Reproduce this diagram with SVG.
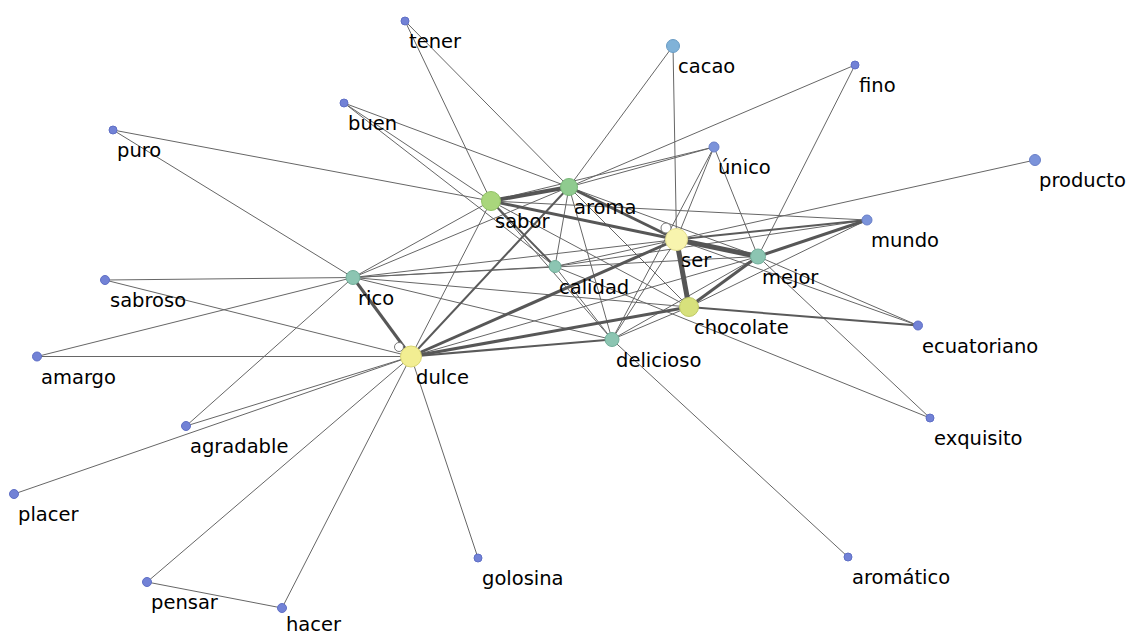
<svg xmlns="http://www.w3.org/2000/svg" width="1129" height="635" viewBox="0 0 1129 635">
<style>
.e{stroke:#666;stroke-width:1;fill:none}
.e2{stroke:#5a5a5a;stroke-width:2}
.e3{stroke:#575757;stroke-width:3}
.e4{stroke:#555;stroke-width:4}
.e5{stroke:#555;stroke-width:5}
.blue{fill:#7282d6;stroke:#5f6fc6;stroke-width:1}
.blue2{fill:#7b93da;stroke:#6a80c8;stroke-width:1}
.cacao{fill:#80b2d8;stroke:#6a9cc4;stroke-width:1}
.teal{fill:#8cc5b2;stroke:#72ae9a;stroke-width:1}
.sabor{fill:#a9d67c;stroke:#92c266;stroke-width:1}
.aroma{fill:#8fcb8f;stroke:#78b878;stroke-width:1}
.ser{fill:#f8f4ae;stroke:#e4de8e;stroke-width:1}
.dulce{fill:#f2ee92;stroke:#dad672;stroke-width:1}
.choc{fill:#d7e17c;stroke:#c0ca66;stroke-width:1}
.loop{fill:#fff;stroke:#777;stroke-width:1}
text{font-family:"DejaVu Sans","Liberation Sans",sans-serif;font-size:19.5px;fill:#000}
</style>
<rect width="1129" height="635" fill="#fff"/>
<g id="connectors">
<line class="e" x1="405" y1="21" x2="491" y2="201"/>
<line class="e" x1="405" y1="21" x2="569" y2="187"/>
<line class="e" x1="673" y1="46" x2="569" y2="187"/>
<line class="e" x1="673" y1="46" x2="676.5" y2="239.5"/>
<line class="e" x1="855" y1="65" x2="569" y2="187"/>
<line class="e" x1="855" y1="65" x2="758" y2="256.5"/>
<line class="e" x1="344" y1="103" x2="569" y2="187"/>
<line class="e" x1="344" y1="103" x2="491" y2="201"/>
<line class="e" x1="344" y1="103" x2="555" y2="266.5"/>
<line class="e" x1="113" y1="130" x2="491" y2="201"/>
<line class="e" x1="113" y1="130" x2="353" y2="277.5"/>
<line class="e" x1="714" y1="147" x2="569" y2="187"/>
<line class="e" x1="714" y1="147" x2="491" y2="201"/>
<line class="e" x1="714" y1="147" x2="676.5" y2="239.5"/>
<line class="e" x1="714" y1="147" x2="758" y2="256.5"/>
<line class="e" x1="714" y1="147" x2="612" y2="339.5"/>
<line class="e" x1="1035" y1="160" x2="676.5" y2="239.5"/>
<line class="e" x1="105" y1="280" x2="353" y2="277.5"/>
<line class="e" x1="105" y1="280" x2="411" y2="356.5"/>
<line class="e" x1="37" y1="356.5" x2="411" y2="356.5"/>
<line class="e" x1="37" y1="356.5" x2="353" y2="277.5"/>
<line class="e" x1="186" y1="426" x2="411" y2="356.5"/>
<line class="e" x1="186" y1="426" x2="353" y2="277.5"/>
<line class="e" x1="14" y1="494" x2="411" y2="356.5"/>
<line class="e" x1="147" y1="582" x2="411" y2="356.5"/>
<line class="e" x1="147" y1="582" x2="282" y2="608"/>
<line class="e" x1="282" y1="608" x2="411" y2="356.5"/>
<line class="e" x1="478" y1="558" x2="411" y2="356.5"/>
<line class="e" x1="848" y1="557" x2="612" y2="339.5"/>
<line class="e" x1="930" y1="418" x2="555" y2="266.5"/>
<line class="e" x1="930" y1="418" x2="758" y2="256.5"/>
<line class="e" x1="918" y1="325.5" x2="676.5" y2="239.5"/>
<line class="e" x1="918" y1="325.5" x2="758" y2="256.5"/>
<line class="e" x1="867" y1="220" x2="491" y2="201"/>
<line class="e" x1="867" y1="220" x2="689" y2="307"/>
<line class="e" x1="867" y1="220" x2="555" y2="266.5"/>
<line class="e" x1="353" y1="277.5" x2="491" y2="201"/>
<line class="e" x1="353" y1="277.5" x2="569" y2="187"/>
<line class="e" x1="353" y1="277.5" x2="676.5" y2="239.5"/>
<line class="e" x1="353" y1="277.5" x2="555" y2="266.5"/>
<line class="e" x1="353" y1="277.5" x2="689" y2="307"/>
<line class="e" x1="353" y1="277.5" x2="612" y2="339.5"/>
<line class="e" x1="353" y1="277.5" x2="758" y2="256.5"/>
<line class="e" x1="491" y1="201" x2="612" y2="339.5"/>
<line class="e" x1="491" y1="201" x2="689" y2="307"/>
<line class="e" x1="491" y1="201" x2="411" y2="356.5"/>
<line class="e" x1="569" y1="187" x2="555" y2="266.5"/>
<line class="e" x1="569" y1="187" x2="612" y2="339.5"/>
<line class="e" x1="569" y1="187" x2="689" y2="307"/>
<line class="e" x1="569" y1="187" x2="758" y2="256.5"/>
<line class="e" x1="555" y1="266.5" x2="612" y2="339.5"/>
<line class="e" x1="555" y1="266.5" x2="676.5" y2="239.5"/>
<line class="e" x1="612" y1="339.5" x2="676.5" y2="239.5"/>
<line class="e" x1="612" y1="339.5" x2="689" y2="307"/>
<line class="e" x1="612" y1="339.5" x2="758" y2="256.5"/>
<line class="e" x1="411" y1="356.5" x2="758" y2="256.5"/>
<line class="e e2" x1="411" y1="356.5" x2="612" y2="339.5"/>
<line class="e e2" x1="569" y1="187" x2="411" y2="356.5"/>
<line class="e e2" x1="491" y1="201" x2="555" y2="266.5"/>
<line class="e e2" x1="689" y1="307" x2="918" y2="325.5"/>
<line class="e e2" x1="676.5" y1="239.5" x2="867" y2="220"/>
<line class="e e3" x1="411" y1="356.5" x2="689" y2="307"/>
<line class="e e3" x1="411" y1="356.5" x2="676.5" y2="239.5"/>
<line class="e e3" x1="353" y1="277.5" x2="411" y2="356.5"/>
<line class="e e3" x1="758" y1="256.5" x2="867" y2="220"/>
<line class="e e3" x1="689" y1="307" x2="758" y2="256.5"/>
<line class="e e3" x1="491" y1="201" x2="676.5" y2="239.5"/>
<line class="e e3" x1="569" y1="187" x2="676.5" y2="239.5"/>
<line class="e e4" x1="491" y1="201" x2="569" y2="187"/>
<line class="e e5" x1="676.5" y1="239.5" x2="758" y2="256.5"/>
<line class="e e5" x1="676.5" y1="239.5" x2="689" y2="307"/>
<circle class="loop" cx="666" cy="228" r="5"/>
<circle class="loop" cx="399" cy="347" r="4.5"/>
</g>
<g id="node-tener"><circle class="blue" cx="405" cy="21" r="4"/><text x="409" y="48">tener</text></g>
<g id="node-cacao"><circle class="cacao" cx="673" cy="46" r="6.5"/><text x="678" y="73">cacao</text></g>
<g id="node-fino"><circle class="blue" cx="855" cy="65" r="4"/><text x="859" y="92">fino</text></g>
<g id="node-buen"><circle class="blue" cx="344" cy="103" r="4"/><text x="348" y="130">buen</text></g>
<g id="node-puro"><circle class="blue" cx="113" cy="130" r="4"/><text x="117" y="157">puro</text></g>
<g id="node-unico"><circle class="blue2" cx="714" cy="147" r="5"/><text x="718" y="174">único</text></g>
<g id="node-producto"><circle class="blue2" cx="1035" cy="160" r="5.5"/><text x="1039" y="187">producto</text></g>
<g id="node-sabor"><circle class="sabor" cx="491" cy="201" r="9.5"/><text x="495" y="228">sabor</text></g>
<g id="node-aroma"><circle class="aroma" cx="569" cy="187" r="8.5"/><text x="574" y="214">aroma</text></g>
<g id="node-mundo"><circle class="blue2" cx="867" cy="220" r="5"/><text x="871" y="247">mundo</text></g>
<g id="node-ser"><circle class="ser" cx="676.5" cy="239.5" r="11"/><text x="681" y="267">ser</text></g>
<g id="node-mejor"><circle class="teal" cx="758" cy="256.5" r="7.5"/><text x="762" y="284">mejor</text></g>
<g id="node-calidad"><circle class="teal" cx="555" cy="266.5" r="6"/><text x="559" y="294">calidad</text></g>
<g id="node-rico"><circle class="teal" cx="353" cy="277.5" r="7"/><text x="358" y="305">rico</text></g>
<g id="node-sabroso"><circle class="blue" cx="105" cy="280" r="4.5"/><text x="110" y="307">sabroso</text></g>
<g id="node-chocolate"><circle class="choc" cx="689" cy="307" r="9.5"/><text x="694" y="334">chocolate</text></g>
<g id="node-ecuatoriano"><circle class="blue" cx="918" cy="325.5" r="4.5"/><text x="922" y="353">ecuatoriano</text></g>
<g id="node-delicioso"><circle class="teal" cx="612" cy="339.5" r="7"/><text x="616" y="367">delicioso</text></g>
<g id="node-amargo"><circle class="blue" cx="37" cy="356.5" r="4.5"/><text x="41" y="384">amargo</text></g>
<g id="node-dulce"><circle class="dulce" cx="411" cy="356.5" r="10.5"/><text x="416" y="384">dulce</text></g>
<g id="node-exquisito"><circle class="blue" cx="930" cy="418" r="4"/><text x="934" y="445">exquisito</text></g>
<g id="node-agradable"><circle class="blue" cx="186" cy="426" r="4.5"/><text x="190" y="453">agradable</text></g>
<g id="node-placer"><circle class="blue" cx="14" cy="494" r="4.5"/><text x="18" y="521">placer</text></g>
<g id="node-golosina"><circle class="blue" cx="478" cy="558" r="4"/><text x="482" y="585">golosina</text></g>
<g id="node-aromatico"><circle class="blue" cx="848" cy="557" r="4"/><text x="852" y="584">aromático</text></g>
<g id="node-pensar"><circle class="blue" cx="147" cy="582" r="4.5"/><text x="151" y="609">pensar</text></g>
<g id="node-hacer"><circle class="blue" cx="282" cy="608" r="4.5"/><text x="286" y="631">hacer</text></g>
</svg>
